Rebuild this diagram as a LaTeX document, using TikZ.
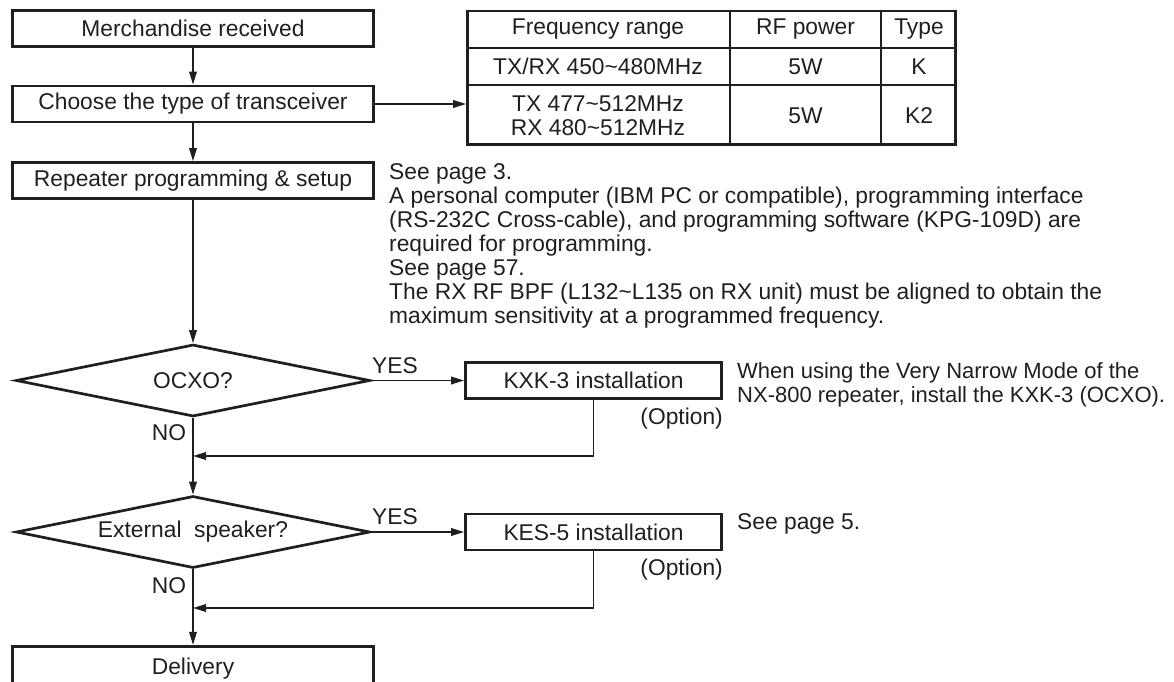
\documentclass[tikz,border=0pt]{standalone}
\usepackage{fontspec}
\setmainfont{Liberation Sans}
\usetikzlibrary{arrows.meta,shapes.geometric}
\definecolor{ink}{RGB}{35,30,30}
\begin{document}
\begin{tikzpicture}[x=1pt,y=-1pt,
  every node/.style={font=\fontsize{22.8}{24}\selectfont,text=ink},
  stage/.style={draw=ink,line width=2.7pt,minimum width=361pt,minimum height=36pt,inner sep=0pt},
  addon/.style={draw=ink,line width=2.7pt,minimum width=256pt,minimum height=36pt,inner sep=0pt},
  query/.style={diamond,draw=ink,line width=2.7pt,aspect=4.8,minimum width=354pt,minimum height=72pt,inner sep=0pt},
  arr/.style={draw=ink,line width=1.8pt,-{Triangle[length=13pt,width=7.5pt]}}]
\useasboundingbox (0,0) rectangle (1174,681);
\clip (0,0) rectangle (1174,681);
% the main column
\node[stage] (merch) at (193,28.7) {Merchandise received};
\node[stage] (choose) at (193,104) {Choose the type of transceiver};
\node[stage] (repeat) at (193,180.5) {Repeater programming \& setup};
\node[query] (ocxo) at (193,380.5) {OCXO?};
\node[query] (ext) at (193,532) {External\ \ speaker?};
\node[stage,minimum height=44pt] (deliv) at (193,668.3) {Delivery};
% the options
\node[addon] (kxk) at (593.5,380.5) {KXK-3 installation};
\node[addon] (kes) at (593.5,532) {KES-5 installation};
\coordinate (join1) at (193,456);
\coordinate (join2) at (193,608);
% the table
\node[draw=ink,line width=2.7pt,minimum width=488pt,minimum height=133.5pt,inner sep=0pt] (tbl) at (711.5,77.8) {};
\foreach \y in {48,85}
  \draw[draw=ink,line width=2pt] (467,\y) -- (956,\y);
\foreach \x in {730,881}
  \draw[draw=ink,line width=2pt] (\x,11) -- (\x,144.5);
\node (hfreq) at (598,29) {Frequency range};
\node (hpow) at (805.5,29) {RF power};
\node (htype) at (919,29) {Type};
\node (freqk) at (598,66.5) {TX/RX 450\textasciitilde480MHz};
\node (powk) at (805.5,66.5) {5W};
\node (typek) at (919,66.5) {K};
\node[align=center] (freqkk) at (598,116) {TX 477\textasciitilde512MHz\\RX 480\textasciitilde512MHz};
\node (powkk) at (805.5,116) {5W};
\node (typekk) at (919,116) {K2};
% notes
\node[anchor=north west,align=left,inner sep=0pt] (notes) at (389,163) {See page 3.\\A personal computer (IBM PC or compatible), programming interface\\(RS-232C Cross-cable), and programming software (KPG-109D) are\\required for programming.\\See page 57.\\The RX RF BPF (L132\textasciitilde L135 on RX unit) must be aligned to obtain the\\maximum sensitivity at a programmed frequency.};
\node[anchor=north west,align=left,inner sep=0pt,font=\fontsize{22}{24}\selectfont] (kxknote) at (737,362) {When using the Very Narrow Mode of the\\NX-800 repeater, install the KXK-3 (OCXO).};
\node[anchor=north west,inner sep=0pt] (kesnote) at (737,513) {See page 5.};
\node[anchor=east,inner sep=0pt] (kxkopt) at (723,419) {(Option)};
\node[anchor=east,inner sep=0pt] (kesopt) at (723,570) {(Option)};
\node (yes1) at (395,366) {YES};
\node (yes2) at (395,517) {YES};
\node (no1) at (169,433) {NO};
\node (no2) at (169,586) {NO};
% connectors
\draw[arr] (merch) -- (choose);
\draw[arr] (choose) -- (repeat);
\draw[arr] (choose.east) -- (choose.east -| tbl.west);
\draw[arr] (repeat) -- (ocxo);
\draw[arr] (ocxo.east) -- (kxk.west);
\draw[arr] (kxk.south) |- (join1);
\draw[arr] (ocxo.south) -- (ext.north);
\draw[arr] (ext.east) -- (kes.west);
\draw[arr] (kes.south) |- (join2);
\draw[arr] (ext.south) -- (deliv.north);
\end{tikzpicture}
\end{document}
